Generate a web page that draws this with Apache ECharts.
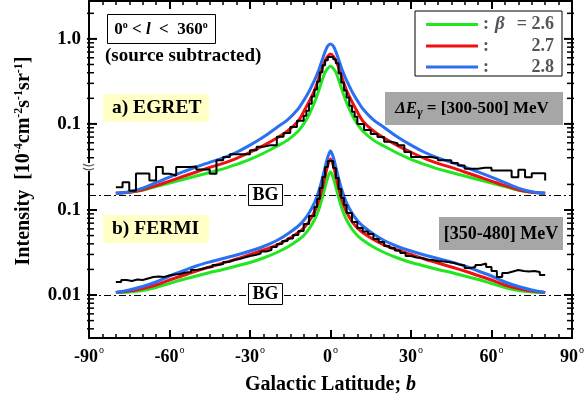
<!DOCTYPE html>
<html>
<head>
<meta charset="utf-8">
<script src="https://cdn.jsdelivr.net/npm/echarts@6/dist/echarts.min.js"></script>
<style>
html, body { margin: 0; padding: 0; background: #fff; }
#chart { width: 587px; height: 404px; }
</style>
</head>
<body>
<div id="chart"></div>
<script>
var FONT = '"Liberation Serif", "DejaVu Serif", serif';

// model curves: galactic latitude samples
var modelLat = [-80, -75, -70, -65, -60, -55, -50, -45, -40, -35, -30, -25, -20, -16, -12, -10, -8, -6, -5, -4, -3, -2, -1, 0,
	1, 2, 3, 4, 5, 6, 8, 10, 12, 16, 20, 25, 30, 35, 40, 45, 50, 55, 60, 65, 70, 75, 80];

// b) FERMI models
var fermiBlue = [0.01070, 0.01145, 0.01259, 0.01422, 0.01673, 0.01915, 0.02194, 0.02445, 0.02688, 0.02955, 0.03294, 0.03721, 0.04377, 0.05220, 0.06481, 0.07522, 0.09221, 0.1209, 0.1461, 0.1815, 0.2380, 0.3205, 0.4203, 0.4944,
	0.4203, 0.3205, 0.2380, 0.1815, 0.1461, 0.1209, 0.09221, 0.07522, 0.06481, 0.05220, 0.04377, 0.03721, 0.03294, 0.02955, 0.02688, 0.02445, 0.02194, 0.01915, 0.01673, 0.01422, 0.01259, 0.01145, 0.01070];
var fermiRed = [0.01070, 0.01114, 0.01192, 0.01311, 0.01501, 0.01696, 0.01916, 0.02135, 0.02380, 0.02652, 0.02996, 0.03383, 0.03874, 0.04498, 0.05436, 0.06142, 0.07322, 0.09473, 0.1129, 0.1403, 0.1840, 0.2512, 0.3383, 0.3981,
	0.3383, 0.2512, 0.1840, 0.1403, 0.1129, 0.09473, 0.07322, 0.06142, 0.05436, 0.04498, 0.03874, 0.03383, 0.02996, 0.02652, 0.02380, 0.02135, 0.01916, 0.01696, 0.01501, 0.01311, 0.01192, 0.01114, 0.01070];
var fermiGreen = [0.01070, 0.01085, 0.01130, 0.01225, 0.01366, 0.01522, 0.01673, 0.01840, 0.01995, 0.02194, 0.02412, 0.02725, 0.03162, 0.03670, 0.04437, 0.05012, 0.05977, 0.07627, 0.08974, 0.1100, 0.1422, 0.1865, 0.2413, 0.2800,
	0.2413, 0.1865, 0.1422, 0.1100, 0.08974, 0.07627, 0.05977, 0.05012, 0.04437, 0.03670, 0.03162, 0.02725, 0.02412, 0.02194, 0.01995, 0.01840, 0.01673, 0.01522, 0.01366, 0.01225, 0.01130, 0.01085, 0.01070];

// a) EGRET models (own axis units, drawn one decade higher)
var egretBlue = [0.01529, 0.01594, 0.01754, 0.02040, 0.02371, 0.02720, 0.03119, 0.03528, 0.03992, 0.04642, 0.05623, 0.07003, 0.09085, 0.1116, 0.1509, 0.1878, 0.2404, 0.3250, 0.3831, 0.4642, 0.5780, 0.7098, 0.8254, 0.8720,
	0.8254, 0.7098, 0.5780, 0.4642, 0.3831, 0.3250, 0.2404, 0.1878, 0.1509, 0.1116, 0.09085, 0.07003, 0.05623, 0.04642, 0.03992, 0.03528, 0.03119, 0.02720, 0.02371, 0.02040, 0.01754, 0.01594, 0.01529];
var egretRed = [0.01529, 0.01572, 0.01684, 0.01878, 0.02126, 0.02404, 0.02720, 0.03077, 0.03433, 0.03937, 0.04642, 0.05546, 0.06813, 0.08254, 0.1086, 0.1389, 0.1828, 0.2471, 0.2993, 0.3728, 0.4642, 0.5546, 0.6276, 0.6629,
	0.6276, 0.5546, 0.4642, 0.3728, 0.2993, 0.2471, 0.1828, 0.1389, 0.1086, 0.08254, 0.06813, 0.05546, 0.04642, 0.03937, 0.03433, 0.03077, 0.02720, 0.02404, 0.02126, 0.01878, 0.01684, 0.01572, 0.01529];
var egretGreen = [0.01529, 0.01572, 0.01661, 0.01828, 0.02012, 0.02214, 0.02437, 0.02683, 0.02953, 0.03341, 0.03831, 0.04517, 0.05470, 0.06449, 0.08254, 0.1000, 0.1280, 0.1778, 0.2154, 0.2683, 0.3341, 0.4047, 0.4517, 0.4771,
	0.4517, 0.4047, 0.3341, 0.2683, 0.2154, 0.1778, 0.1280, 0.1000, 0.08254, 0.06449, 0.05470, 0.04517, 0.03831, 0.03341, 0.02953, 0.02683, 0.02437, 0.02214, 0.02012, 0.01828, 0.01661, 0.01572, 0.01529];

// EGRET data histogram: bin left edges + intensity
var egretEdges = [-80, -77.5, -75, -72.5, -70, -67.5, -65, -62.5, -60, -57.5, -55, -52.5, -50, -47.5, -45, -42.5, -40, -37.5, -35, -32.5, -30, -27.5, -25, -22.5, -20, -17.5, -15, -12.5,
	-10, -9, -8, -7, -6, -5, -4, -3, -2, -1, 0, 1, 2, 3, 4, 5, 6, 7, 8, 9,
	10, 12.5, 15, 17.5, 20, 22.5, 25, 27.5, 30, 32.5, 35, 37.5, 40, 42.5, 45, 47.5, 50, 52.5, 55, 57.5, 60, 62.5, 65, 67.5, 70, 72.5, 75, 77.5, 80];
var egretData = [0.01793, 0.02056, 0.01638, 0.02610, 0.02610, 0.02154, 0.03102, 0.02588, 0.02471, 0.03102, 0.03102, 0.03162, 0.02912, 0.02912, 0.02588, 0.03728, 0.04080, 0.04394, 0.04394, 0.04394, 0.04903, 0.05369, 0.05623, 0.05623, 0.07061, 0.07814, 0.09211, 0.1086,
	0.1245, 0.1428, 0.1730, 0.2096, 0.2540, 0.3162, 0.4047, 0.4903, 0.5623, 0.6105, 0.6105, 0.5780, 0.5180, 0.3938, 0.3077, 0.2471, 0.2039, 0.1638, 0.1389, 0.1212,
	0.1000, 0.08483, 0.07601, 0.07003, 0.06156, 0.05940, 0.05623, 0.04681, 0.04080, 0.04080, 0.04080, 0.03937, 0.03728, 0.03728, 0.03462, 0.03250, 0.02970, 0.02970, 0.03052, 0.03052, 0.02835, 0.02835, 0.02835, 0.02358, 0.02888, 0.02358, 0.02632, 0.02632, 0.02154];

// FERMI data histogram
var fermiEdges = [-80, -78, -76, -74, -72, -70, -68, -66, -64, -62, -60, -58, -56, -54, -52, -50, -48, -46, -44, -42, -40, -38, -36, -34, -32, -30, -28, -26, -24, -22, -20, -18, -16, -14, -12, -10, -8,
	-6, -5, -4, -3, -2, -1, 0, 1, 2, 3, 4, 5,
	6, 8, 10, 12, 14, 16, 18, 20, 22, 24, 26, 28, 30, 32, 34, 36, 38, 40, 42, 44, 46, 48, 50, 52, 54, 56, 58, 60, 62, 64, 66, 68, 70, 72, 74, 76, 78, 80];
var fermiData = [0.01422, 0.01502, 0.01461, 0.01522, 0.01502, 0.01564, 0.01628, 0.01651, 0.01628, 0.01696, 0.01742, 0.01766, 0.01839, 0.01864, 0.01968, 0.02023, 0.02106, 0.02135, 0.02254, 0.02316, 0.02445, 0.02581, 0.02651, 0.02762, 0.02876, 0.02955, 0.03078, 0.03250, 0.03384, 0.03670, 0.03981, 0.04318, 0.04620, 0.05081, 0.05662, 0.06844, 0.08501,
	0.1085, 0.1347, 0.1815, 0.2445, 0.3205, 0.3771, 0.3771, 0.3120, 0.2380, 0.1766, 0.1384, 0.1145,
	0.09221, 0.07225, 0.06142, 0.05585, 0.05220, 0.04558, 0.04202, 0.03772, 0.03572, 0.03338, 0.03120, 0.02876, 0.02762, 0.02725, 0.02616, 0.02581, 0.02512, 0.02479, 0.02445, 0.02380, 0.02285, 0.02224, 0.02078, 0.02135, 0.02254, 0.02348, 0.02135, 0.01916, 0.01628, 0.01815, 0.01890, 0.01968, 0.01916, 0.01890, 0.01916, 0.01864, 0.01719, 0.01719];

// background levels
var egretBG = 0.0142;
var fermiBG = 0.0100;

// y ticks (lower panel in its units, upper panel in its units)
var lowerTicks = [0.01, 0.1];
var lowerLabels = ['0.01', '0.1'];
var upperTicks = [0.1, 1.0];
var upperLabels = ['0.1', '1.0'];
var lowerMinor = [0.004, 0.005, 0.006, 0.007, 0.008, 0.009, 0.02, 0.03, 0.04, 0.05, 0.06, 0.07, 0.08, 0.09, 0.2];
var upperMinor = [0.04, 0.05, 0.06, 0.07, 0.08, 0.09, 0.2, 0.3, 0.4, 0.5, 0.6, 0.7, 0.8, 0.9, 2];
var xTicks = ['-90', '-60', '-30', '0', '30', '60', '90'];

var EGRET_SHIFT = 10.3; // upper panel is moved up by about one decade
var Y_MIN = 0.00312, Y_MAX = 28.76;

function pairs(xs, ys, k) {
	var out = [];
	for (var i = 0; i < xs.length; i++) {
		out.push([xs[i], ys[i] * (k || 1)]);
	}
	return out;
}

var majorVals = lowerTicks.concat(upperTicks.map(function(v) { return v * EGRET_SHIFT; }));
var majorLabels = lowerLabels.concat(upperLabels);
var minorVals = lowerMinor.concat(upperMinor.map(function(v) { return v * EGRET_SHIFT; }));

function yLabel(value) {
	var best = 0;
	for (var i = 0; i < majorVals.length; i++) {
		if (Math.abs(Math.log(value / majorVals[i])) < Math.abs(Math.log(value / majorVals[best]))) best = i;
	}
	return majorLabels[best];
}

var blk = '#000';
function yAxisDef(pos) {
	return {
		type: 'log',
		min: Y_MIN,
		max: Y_MAX,
		position: pos,
		axisLine: { show: true, onZero: false, lineStyle: { color: blk, width: 2 } },
		axisTick: { show: false },
		axisLabel: pos == 'left' ? {
			customValues: majorVals,
			formatter: yLabel,
			fontFamily: FONT, fontWeight: 'bold', fontSize: 19, color: blk, margin: 8
		} : { show: false },
		minorTick: { show: false },
		splitLine: { show: false }
	};
}

function xAxisDef(pos) {
	return {
		type: 'value',
		min: -90,
		max: 90,
		interval: 30,
		position: pos,
		axisLine: { show: true, onZero: false, lineStyle: { color: blk, width: 2 } },
		axisTick: { inside: true, length: 8, lineStyle: { color: blk, width: 2 } },
		minorTick: { show: true, splitNumber: 6, length: 4, lineStyle: { color: blk, width: 1.5 } },
		splitLine: { show: false },
		axisLabel: pos == 'bottom' ? {
			margin: 7,
			formatter: function(v) { return '{n|' + xTicks[(v + 90) / 30] + '}{d|o}'; },
			rich: {
				n: { fontFamily: FONT, fontWeight: 'bold', fontSize: 18, color: blk },
				d: { fontFamily: FONT, fontSize: 10, color: blk, padding: [0, 0, 14, 1] }
			}
		} : { show: false },
		name: pos == 'bottom' ? '{a|Galactic Latitude; }{b|b}' : '',
		nameLocation: 'middle',
		nameGap: 37,
		nameTextStyle: {
			rich: {
				a: { fontFamily: FONT, fontWeight: 'bold', fontSize: 20, color: blk },
				b: { fontFamily: FONT, fontWeight: 'bold', fontStyle: 'italic', fontSize: 20, color: blk }
			}
		}
	};
}

var GREEN = '#22e622', RED = '#f01010', BLUE = '#2b70f0';
function model(name, color, data, k) {
	return {
		name: name, type: 'line', smooth: 0.35, symbol: 'none',
		lineStyle: { color: color, width: 3 }, itemStyle: { color: color },
		data: pairs(modelLat, data, k), z: 3
	};
}
function hist(edges, data, k, bg) {
	return {
		type: 'line', step: 'end', symbol: 'none',
		lineStyle: { color: blk, width: 2 },
		data: pairs(edges, data, k), z: 4,
		markLine: {
			silent: true, symbol: 'none', label: { show: false },
			lineStyle: { color: blk, width: 1, type: [7, 3, 2, 3] },
			data: [{ yAxis: bg * k }]
		}
	};
}

function box(x, y, w, h, fill, stroke) {
	return { type: 'rect', z: 100, shape: { x: x, y: y, width: w, height: h },
		style: { fill: fill, stroke: stroke || null, lineWidth: stroke ? 1 : 0 } };
}
function label(x, y, text, size, rich, align) {
	return { type: 'text', z: 101, x: x, y: y,
		style: { text: text, rich: rich, align: align || 'left', verticalAlign: 'middle',
			fontFamily: FONT, fontWeight: 'bold', fontSize: size, fill: blk } };
}
var bold = { fontFamily: FONT, fontWeight: 'bold', fontSize: 17, fill: blk };
var ital = { fontFamily: FONT, fontWeight: 'bold', fontStyle: 'italic', fontSize: 17, fill: blk };
var sup = { fontFamily: FONT, fontWeight: 'bold', fontSize: 10, fill: blk, padding: [0, 0, 10, 0] };

var annotations = [
	// y axis title
	{ type: 'text', z: 101, x: 24, y: 161, rotation: Math.PI / 2,
		style: { text: '{t|Intensity  [10}{s|-4}{t|cm}{s|-2}{t|s}{s|-1}{t|sr}{s|-1}{t|]}', align: 'center', verticalAlign: 'middle',
			rich: { t: { fontFamily: FONT, fontWeight: 'bold', fontSize: 20, fill: blk },
				s: { fontFamily: FONT, fontWeight: 'bold', fontSize: 12, fill: blk, padding: [0, 0, 10, 0] } } } },
	// longitude range
	box(107.5, 14.5, 108, 29, '#fff', blk),
	label(161, 30, '{t|0}{d|o}{t| < }{i|l}{t|  <  360}{d|o}', 17, { t: bold, i: ital, d: sup }, 'center'),
	label(105, 56, '(source subtracted)', 19),
	// panel titles
	box(103, 94, 106, 28, '#ffffc6'),
	label(112, 108, 'a) EGRET', 19.5),
	box(103, 215, 106, 28, '#ffffc6'),
	label(112, 229, 'b) FERMI', 19.5),
	// energy ranges
	box(385, 92, 178, 33, '#a6a6a6'),
	label(472, 109, '{i|ΔE}{g|γ}{t| = [300-500] MeV}', 17, { i: ital, t: bold,
		g: { fontFamily: FONT, fontWeight: 'bold', fontStyle: 'italic', fontSize: 13, fill: blk, padding: [8, 0, 0, 0] } }, 'center'),
	box(439, 217, 124, 33, '#a6a6a6'),
	label(501, 234, '[350-480] MeV', 18, null, 'center'),
	// background labels
	box(248.5, 184.5, 34, 21, '#fff', blk),
	label(265.5, 195.5, 'BG', 18, null, 'center'),
	box(248.5, 283.5, 34, 21, '#fff', blk),
	label(265.5, 294.5, 'BG', 18, null, 'center'),
	// axis break mark
	box(86, 163, 7, 8, '#fff'),
	{ type: 'bezierCurve', z: 102, shape: { x1: 83, y1: 164, cpx1: 88, cpy1: 167.5, x2: 94, y2: 164.5 }, style: { stroke: '#555', lineWidth: 1.3, fill: null } },
	{ type: 'bezierCurve', z: 102, shape: { x1: 83, y1: 168, cpx1: 88, cpy1: 171.5, x2: 94, y2: 168.5 }, style: { stroke: '#555', lineWidth: 1.3, fill: null } }
];

var option = {
	animation: false,
	backgroundColor: '#fff',
	grid: { left: 89, right: 11, top: 1, bottom: 66 },
	xAxis: [xAxisDef('bottom'), xAxisDef('top')],
	yAxis: [yAxisDef('left'), yAxisDef('right')],
	legend: {
		left: 415, top: 11, orient: 'vertical',
		data: ['β = 2.6', 'β = 2.7', 'β = 2.8'],
		icon: 'rect', itemWidth: 52, itemHeight: 3, itemGap: 3, itemTextGap: 6,
		padding: [4, 8, 0, 11],
		borderColor: blk, borderWidth: 1, backgroundColor: '#fff',
		selectedMode: false,
		formatter: function(name) {
			var num = name.split('= ')[1];
			if (num == '2.6') return '{c|:}{b|β}{v|= 2.6}';
			return '{c|:}{w|' + num + '}';
		},
		textStyle: {
			rich: {
				c: { fontFamily: FONT, fontWeight: 'bold', fontSize: 18, width: 12, lineHeight: 18 },
				b: { fontFamily: FONT, fontWeight: 'bold', fontStyle: 'italic', fontSize: 19, width: 15, lineHeight: 18 },
				v: { fontFamily: FONT, fontWeight: 'bold', fontSize: 18, width: 44, align: 'right', lineHeight: 18 },
				w: { fontFamily: FONT, fontWeight: 'bold', fontSize: 18, width: 59, align: 'right', lineHeight: 18 }
			}
		}
	},
	series: [
		model('β = 2.6', GREEN, egretGreen, EGRET_SHIFT),
		model('β = 2.7', RED, egretRed, EGRET_SHIFT),
		model('β = 2.8', BLUE, egretBlue, EGRET_SHIFT),
		model('β = 2.6', GREEN, fermiGreen, 1),
		model('β = 2.7', RED, fermiRed, 1),
		model('β = 2.8', BLUE, fermiBlue, 1),
		hist(egretEdges, egretData, EGRET_SHIFT, egretBG),
		hist(fermiEdges, fermiData, 1, fermiBG)
	],
	graphic: annotations
};

var myChart = echarts.init(document.getElementById('chart'));
myChart.setOption(option);

// y ticks on both frame sides, placed through the log axis scale
function yTicks() {
	var rect = myChart.getModel().getComponent('grid', 0).coordinateSystem.getRect();
	var xl = rect.x, xr = rect.x + rect.width;
	var out = [];
	function add(vals, len, w) {
		for (var i = 0; i < vals.length; i++) {
			var y = myChart.convertToPixel({ yAxisIndex: 0 }, vals[i]);
			out.push({ type: 'line', z: 99, shape: { x1: xl - 2, y1: y, x2: xl + len, y2: y }, style: { stroke: blk, lineWidth: w } });
			out.push({ type: 'line', z: 99, shape: { x1: xr + 2, y1: y, x2: xr - len, y2: y }, style: { stroke: blk, lineWidth: w } });
		}
	}
	add(majorVals, 8, 2);
	add(minorVals, 5, 1.5);
	return out;
}
myChart.setOption({ graphic: annotations.concat(yTicks()) });

window.onresize = function() {
	myChart.resize();
};
</script>
</body>
</html>
